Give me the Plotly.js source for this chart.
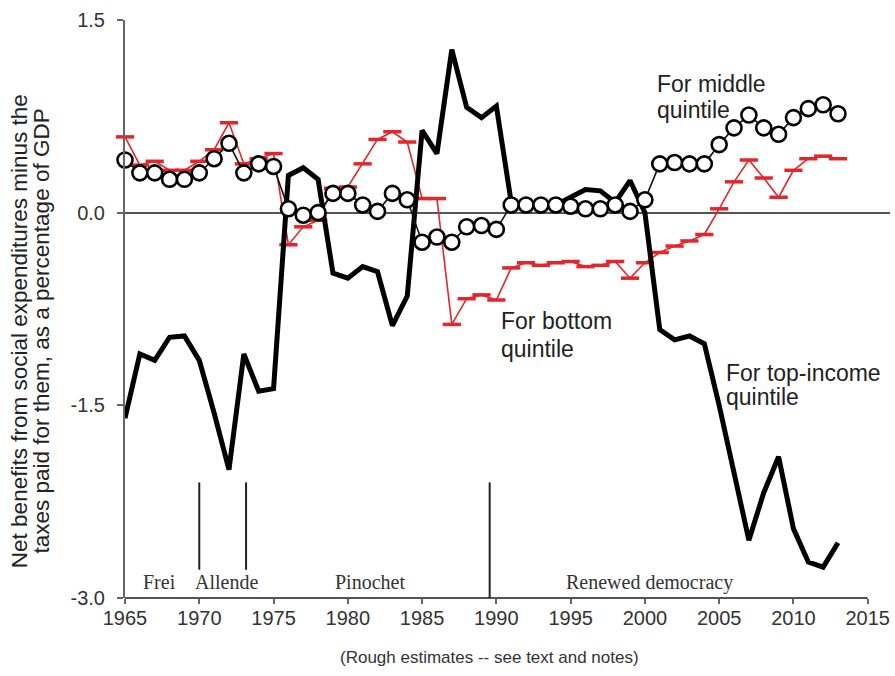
<!DOCTYPE html>
<html>
<head>
<meta charset="utf-8">
<script src="https://cdn.plot.ly/plotly-3.0.1.min.js"></script>
<style>html,body{margin:0;padding:0;background:#fff;}#chart{width:895px;height:676px;}</style>
</head>
<body>
<div id="chart"></div>
<script>
const years = [1965,1966,1967,1968,1969,1970,1971,1972,1973,1974,1975,1976,1977,1978,1979,1980,1981,1982,1983,1984,1985,1986,1987,1988,1989,1990,1991,1992,1993,1994,1995,1996,1997,1998,1999,2000,2001,2002,2003,2004,2005,2006,2007,2008,2009,2010,2011,2012,2013];

const topQuintile = [-1.60,-1.10,-1.15,-0.97,-0.96,-1.15,-1.56,-2.00,-1.10,-1.39,-1.37,0.29,0.35,0.26,-0.47,-0.51,-0.42,-0.46,-0.88,-0.65,0.64,0.46,1.27,0.82,0.74,0.83,0.08,0.06,0.06,0.06,0.12,0.18,0.17,0.08,0.25,0.00,-0.91,-0.99,-0.96,-1.02,-1.50,-2.03,-2.55,-2.18,-1.90,-2.46,-2.72,-2.76,-2.57];

const middleQuintile = [0.41,0.31,0.31,0.26,0.26,0.31,0.42,0.54,0.31,0.38,0.36,0.03,-0.02,0.00,0.15,0.15,0.06,0.01,0.15,0.10,-0.23,-0.19,-0.23,-0.11,-0.10,-0.13,0.06,0.06,0.06,0.06,0.05,0.03,0.03,0.06,0.01,0.10,0.38,0.39,0.38,0.38,0.53,0.66,0.76,0.66,0.61,0.74,0.81,0.84,0.77];

const bottomQuintile = [0.59,0.37,0.40,0.33,0.33,0.40,0.49,0.70,0.38,0.42,0.46,-0.25,-0.11,-0.06,0.19,0.20,0.38,0.57,0.63,0.55,0.11,0.11,-0.87,-0.67,-0.64,-0.68,-0.43,-0.39,-0.41,-0.39,-0.38,-0.42,-0.41,-0.38,-0.51,-0.39,-0.31,-0.26,-0.22,-0.17,0.03,0.24,0.41,0.27,0.12,0.33,0.42,0.44,0.42];

const xTicks = [1965,1970,1975,1980,1985,1990,1995,2000,2005,2010,2015];
const yTickVals = [1.5,0,-1.5,-3];
const yTickText = ['1.5','0.0','-1.5','-3.0'];

const eraNames = ['Frei','Allende','Pinochet','Renewed democracy'];
const eraCenters = [1967.3,1971.8,1981.5,2000.3];
const eraBreaks = [1970,1973.15,1989.55];

const RED = '#e3262b';
const SANS = '"Liberation Sans", Arial, Helvetica, sans-serif';
const SERIF = '"Liberation Serif", "Times New Roman", serif';

const traces = [
  {x: years, y: bottomQuintile, type: 'scatter', mode: 'lines+markers', cliponaxis: false,
   line: {color: RED, width: 1.6},
   marker: {symbol: 'line-ew', size: 13, line: {color: RED, width: 3.5}}},
  {x: years, y: topQuintile, type: 'scatter', mode: 'lines', cliponaxis: false,
   line: {color: '#000', width: 5, join: 'miter'}},
  {x: years, y: middleQuintile, type: 'scatter', mode: 'lines+markers', cliponaxis: false,
   line: {color: '#111', width: 1.6},
   marker: {symbol: 'circle', size: 15, color: '#fff', line: {color: '#000', width: 2.6}}}
];

const shapes = [
  {type: 'line', xref: 'paper', yref: 'paper', x0: 0, x1: 50/51.5, y0: 0, y1: 0,
   line: {color: '#555', width: 2}}
];
eraBreaks.forEach((b, i) => {
  shapes.push({type: 'line', xref: 'x', yref: 'y', x0: b, x1: b, y0: -2.10, y1: i === 2 ? -3.0 : -2.78,
    line: {color: '#222', width: 2}});
});

const annotations = [];
eraNames.forEach((n, i) => {
  annotations.push({x: eraCenters[i], y: -2.877, xref: 'x', yref: 'y', text: n, showarrow: false,
    xanchor: 'center', yanchor: 'middle', font: {family: SERIF, size: 20, color: '#333'}});
});
const lbl = (x, y, t) => ({x: x, y: y, xref: 'x', yref: 'y', text: t, showarrow: false,
  xanchor: 'left', yanchor: 'middle', align: 'left', font: {family: SANS, size: 23, color: '#222'}});
annotations.push(lbl(2000.7, 1.00, 'For middle'));
annotations.push(lbl(2000.7, 0.80, 'quintile'));
annotations.push(lbl(1990.2, -0.84, 'For bottom'));
annotations.push(lbl(1990.2, -1.065, 'quintile'));
annotations.push(lbl(2005.3, -1.245, 'For top-income'));
annotations.push(lbl(2005.3, -1.435, 'quintile'));

annotations.push({xref: 'paper', yref: 'paper', x: -0.137, y: 0.462, textangle: -90, showarrow: false,
  text: 'Net benefits from social expenditures minus the', xanchor: 'center', yanchor: 'middle',
  font: {family: SANS, size: 22.5, color: '#222'}});
annotations.push({xref: 'paper', yref: 'paper', x: -0.109, y: 0.462, textangle: -90, showarrow: false,
  text: 'taxes paid for them, as a percentage of GDP', xanchor: 'center', yanchor: 'middle',
  font: {family: SANS, size: 22.5, color: '#222'}});
annotations.push({xref: 'paper', yref: 'paper', x: 0.477, y: -0.103, showarrow: false,
  text: '(Rough estimates -- see text and notes)', xanchor: 'center', yanchor: 'middle',
  font: {family: SANS, size: 17, color: '#333'}});

const layout = {
  width: 895, height: 676,
  margin: {l: 125, r: 5, t: 20, b: 78, pad: 0},
  paper_bgcolor: '#fff', plot_bgcolor: '#fff',
  showlegend: false,
  font: {family: SANS, color: '#333'},
  xaxis: {range: [1965, 2016.5], tickvals: xTicks, ticktext: xTicks.map(String),
    showgrid: false, zeroline: false, showline: false,
    ticks: 'outside', ticklen: 5, tickwidth: 2, tickcolor: '#666',
    ticklabelstandoff: -3,
    tickfont: {family: SANS, size: 20, color: '#333'}},
  yaxis: {range: [-3, 1.5], tickvals: yTickVals, ticktext: yTickText,
    showgrid: false, zeroline: true, zerolinecolor: '#555', zerolinewidth: 2,
    showline: true, linecolor: '#666', linewidth: 2,
    ticks: 'outside', ticklen: 6, tickwidth: 2, tickcolor: '#666',
    ticklabelstandoff: 8,
    tickfont: {family: SANS, size: 20, color: '#333'}},
  shapes: shapes,
  annotations: annotations
};

Plotly.newPlot('chart', traces, layout, {staticPlot: true, displayModeBar: false});
</script>
</body>
</html>
